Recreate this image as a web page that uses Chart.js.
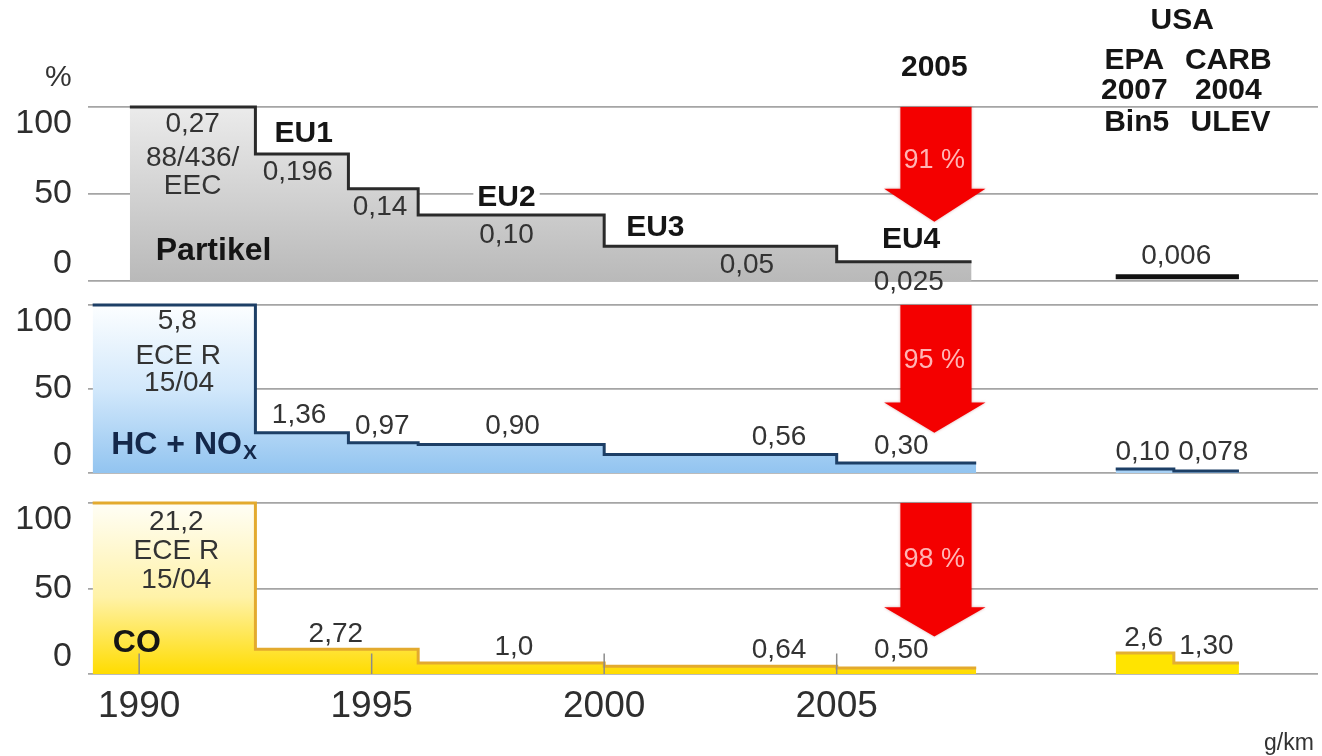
<!DOCTYPE html>
<html><head><meta charset="utf-8">
<script src="https://cdn.jsdelivr.net/npm/chart.js@4.4.1/dist/chart.umd.min.js"></script>
<style>html,body{margin:0;padding:0;background:#fff;overflow:hidden}canvas{display:block}</style>
</head><body>
<canvas id="c" width="1322" height="756"></canvas>
<script>
// ================= DATA =================
const tickYears = [1990, 1995, 2000, 2005];
const panelTicks = [0, 50, 100];

// EU limits in % of the first limit (step starts; last entry = end of the series)
const partikelYears = [1989.8, 1992.5, 1994.5, 1996.0, 2000.0, 2005.0, 2007.9];
const partikelPct   = [100, 73, 53, 38, 20, 11, 11];
const partikelLabels = ['0,27', '0,196', '0,14', '0,10', '0,05', '0,025'];

const hcYears = [1989.0, 1992.5, 1994.5, 1996.0, 2000.0, 2005.0, 2008.0];
const hcPct   = [100, 24, 18, 17, 11, 6, 6];
const hcLabels = ['5,8', '1,36', '0,97', '0,90', '0,56', '0,30'];

const coYears = [1989.0, 1992.5, 1996.0, 2000.0, 2005.0, 2008.0];
const coPct   = [100, 14.5, 6.5, 4.5, 3.5, 3.5];
const coLabels = ['21,2', '2,72', '1,0', '0,64', '0,50'];

// USA: EPA 2007 Bin5 | CARB 2004 ULEV
const usaYears = [2011.0, 2012.25, 2013.65];
const usaPartikelPct = [2.5, 2.5, 2.5];
const usaHcPct = [2.4, 1.2, 1.2];
const usaCoPct = [12.3, 6.4, 6.4];
const usaPartikelLabels = ['0,006'];
const usaHcLabels = ['0,10', '0,078'];
const usaCoLabels = ['2,6', '1,30'];

const reductionLabels = ['91 %', '95 %', '98 %'];
const euLabels = ['EU1', 'EU2', 'EU3', 'EU4'];

// ================= STYLE / LAYOUT =================
const FONT = '"Liberation Sans", Arial, Helvetica, sans-serif';
Chart.defaults.font.family = FONT;

const pts = (xs, ys) => xs.map((x, i) => ({x: x, y: ys[i]}));

function vGrad(ctx, sid, stops) {
  const chart = ctx.chart;
  const ys = chart.scales[sid];
  if (!chart.chartArea || !ys) return stops[stops.length - 1][1];
  const g = chart.ctx.createLinearGradient(0, ys.getPixelForValue(100), 0, ys.getPixelForValue(0));
  stops.forEach(s => g.addColorStop(s[0], s[1]));
  return g;
}
const grayStops = [[0, '#ebebeb'], [1, '#b9b9b9']];
const blueStops = [[0, '#fcfeff'], [0.5, '#d2e8fb'], [1, '#92c4f0']];
const yellowStops = [[0, '#fffef6'], [0.55, '#fff2a8'], [1, '#ffdc00']];

function yAxis(min, max, weight, stackWeight) {
  return {
    type: 'linear', position: 'left', stack: 'panels', stackWeight: stackWeight, weight: weight,
    min: min, max: max,
    afterBuildTicks: s => { s.ticks = panelTicks.map(v => ({value: v})); },
    afterFit: s => { s.width = 88; s.paddingTop = 0; s.paddingBottom = 0; },
    grid: {color: '#a5a5a5', lineWidth: 1.8, drawTicks: false},
    border: {display: false},
    ticks: {
      padding: 16, color: '#2e2e2e', autoSkip: false,
      font: {size: 34, lineHeight: 1.0},
      callback: v => v === 100 ? ['', '100'] : (v === 0 ? ['0', ''] : String(v))
    }
  };
}

// label positions (year, percent) per panel
const partikelLabelPos = [[1991.15, 90], [1993.41, 62.6], [1995.18, 42.2], [1997.9, 26.4], [2003.07, 9], [2006.55, -0.5]];
const hcLabelPos = [[1990.82, 90.5], [1993.44, 34.5], [1995.23, 28], [1998.03, 28], [2003.76, 21.4], [2006.39, 16]];
const coLabelPos = [[1990.8, 89], [1994.23, 23.4], [1998.06, 15.8], [2003.76, 14], [2006.39, 14]];
const euLabelPos = [[1993.54, 84.5], [1997.9, 48], [2001.1, 30.5], [2006.6, 23.6]];

const annot = {
  id: 'annot',
  afterDatasetsDraw(chart) {
    const ctx = chart.ctx, xs = chart.scales.x;
    const yC = chart.scales.yC;
    ctx.save();
    ctx.strokeStyle = '#8c8c8c'; ctx.lineWidth = 1.5;
    tickYears.forEach(t => {
      const x = xs.getPixelForValue(t);
      ctx.beginPath(); ctx.moveTo(x, yC.getPixelForValue(0)); ctx.lineTo(x, yC.getPixelForValue(12)); ctx.stroke();
    });
    ctx.restore();
    const arrows = [['yP', 100, 53, 34], ['yH', 100, 42, 24], ['yC', 100, 39, 22]];
    arrows.forEach(a => {
      const ys = chart.scales[a[0]];
      const xL = xs.getPixelForValue(2006.37), xR = xs.getPixelForValue(2007.9);
      const hL = xs.getPixelForValue(2006.02), hR = xs.getPixelForValue(2008.2);
      const xm = xs.getPixelForValue(2007.1);
      const yT = ys.getPixelForValue(a[1]), yB = ys.getPixelForValue(a[2]), yTip = ys.getPixelForValue(a[3]);
      ctx.save();
      ctx.beginPath();
      ctx.moveTo(xL, yT); ctx.lineTo(xR, yT); ctx.lineTo(xR, yB); ctx.lineTo(hR, yB);
      ctx.lineTo(xm, yTip); ctx.lineTo(hL, yB); ctx.lineTo(xL, yB); ctx.closePath();
      ctx.fillStyle = '#f40000';
      ctx.shadowColor = 'rgba(150,0,0,0.35)'; ctx.shadowBlur = 3;
      ctx.fill();
      ctx.restore();
    });
  },
  afterDraw(chart) {
    const ctx = chart.ctx, xs = chart.scales.x;
    const S = {
      v: ['28px ' + FONT, '#333333'],
      b: ['bold 30px ' + FONT, '#151515'],
      B: ['bold 32px ' + FONT, '#151515'],
      h: ['bold 30px ' + FONT, '#151515'],
      pc: ['30px ' + FONT, '#333333'],
      p: ['27px ' + FONT, '#ffb4b4']
    };
    function T(s, sid, xv, yv, kind, align, bg) {
      const ys = chart.scales[sid];
      const x = xs.getPixelForValue(xv), y = ys.getPixelForValue(yv);
      ctx.save();
      ctx.font = S[kind][0]; ctx.textAlign = align || 'center'; ctx.textBaseline = 'middle';
      if (bg) {
        const w = ctx.measureText(s).width;
        ctx.fillStyle = '#ffffff';
        ctx.fillRect(x - w / 2 - 4, y - 13, w + 8, 26);
      }
      ctx.fillStyle = S[kind][1];
      ctx.fillText(s, x, y);
      ctx.restore();
    }
    partikelLabels.forEach((s, i) => T(s, 'yP', partikelLabelPos[i][0], partikelLabelPos[i][1], 'v'));
    T('88/436/', 'yP', 1991.15, 70.7, 'v');
    T('EEC', 'yP', 1991.15, 54.6, 'v');
    euLabels.forEach((s, i) => T(s, 'yP', euLabelPos[i][0], euLabelPos[i][1], 'b', 'center', i === 1));
    T('Partikel', 'yP', 1991.6, 17, 'B');
    T(usaPartikelLabels[0], 'yP', 2012.3, 14.4, 'v');
    T('%', 'yP', 1988.26, 117, 'pc');
    T('2005', 'yP', 2007.1, 122.4, 'h');
    T('USA', 'yP', 2012.43, 149.4, 'h');
    T('EPA', 'yP', 2011.4, 126.4, 'h'); T('CARB', 'yP', 2013.42, 126.4, 'h');
    T('2007', 'yP', 2011.4, 109.2, 'h'); T('2004', 'yP', 2013.42, 109.2, 'h');
    T('Bin5', 'yP', 2011.45, 90.8, 'h'); T('ULEV', 'yP', 2013.47, 90.8, 'h');
    hcLabels.forEach((s, i) => T(s, 'yH', hcLabelPos[i][0], hcLabelPos[i][1], 'v'));
    T('ECE R', 'yH', 1990.84, 69.6, 'v');
    T('15/04', 'yH', 1990.86, 53.6, 'v');
    T(usaHcLabels[0], 'yH', 2011.58, 12.5, 'v');
    T(usaHcLabels[1], 'yH', 2013.1, 12.5, 'v');
    {
      const ys = chart.scales.yH;
      const x = xs.getPixelForValue(1989.4), y = ys.getPixelForValue(16.7);
      ctx.save();
      ctx.font = 'bold 32px ' + FONT; ctx.textAlign = 'left'; ctx.textBaseline = 'middle';
      ctx.fillStyle = '#14284a';
      ctx.fillText('HC + NO', x, y);
      const w = ctx.measureText('HC + NO').width;
      ctx.font = 'bold 21px ' + FONT;
      ctx.fillText('X', x + w + 1, y + 8);
      ctx.restore();
    }
    coLabels.forEach((s, i) => T(s, 'yC', coLabelPos[i][0], coLabelPos[i][1], 'v'));
    T('ECE R', 'yC', 1990.8, 72, 'v');
    T('15/04', 'yC', 1990.8, 55, 'v');
    T('CO', 'yC', 1989.95, 18, 'B');
    T(usaCoLabels[0], 'yC', 2011.6, 21, 'v');
    T(usaCoLabels[1], 'yC', 2012.95, 16.4, 'v');
    T(reductionLabels[0], 'yP', 2007.1, 69, 'p');
    T(reductionLabels[1], 'yH', 2007.1, 67, 'p');
    T(reductionLabels[2], 'yC', 2007.1, 67, 'p');
    ctx.save();
    ctx.font = '23px ' + FONT; ctx.fillStyle = '#333'; ctx.textAlign = 'center'; ctx.textBaseline = 'middle';
    ctx.fillText('g/km', chart.width - 33, chart.height - 12);
    ctx.restore();
  }
};

new Chart(document.getElementById('c'), {
  type: 'line',
  data: {
    datasets: [
      {data: pts(partikelYears, partikelPct), yAxisID: 'yP', stepped: true, borderColor: '#2a2a2a', borderWidth: 3,
       fill: 'origin', backgroundColor: c => vGrad(c, 'yP', grayStops)},
      {data: pts(usaYears, usaPartikelPct), yAxisID: 'yP', stepped: true, borderColor: '#111111', borderWidth: 5, fill: false},
      {data: pts(hcYears, hcPct), yAxisID: 'yH', stepped: true, borderColor: '#1d3f66', borderWidth: 3,
       fill: 'origin', backgroundColor: c => vGrad(c, 'yH', blueStops)},
      {data: pts(usaYears, usaHcPct), yAxisID: 'yH', stepped: true, borderColor: '#1d3f66', borderWidth: 3,
       fill: 'origin', backgroundColor: '#a8d1f4'},
      {data: pts(coYears, coPct), yAxisID: 'yC', stepped: true, borderColor: '#e3aa2e', borderWidth: 3,
       fill: 'origin', backgroundColor: c => vGrad(c, 'yC', yellowStops)},
      {data: pts(usaYears, usaCoPct), yAxisID: 'yC', stepped: true, borderColor: '#e2b032', borderWidth: 3,
       fill: 'origin', backgroundColor: '#ffe400'}
    ]
  },
  options: {
    responsive: false, animation: false,
    layout: {padding: {top: 8, right: 4, left: 0, bottom: 0}},
    elements: {point: {radius: 0}, line: {tension: 0, borderCapStyle: 'butt', borderJoinStyle: 'miter'}},
    plugins: {legend: {display: false}, tooltip: {enabled: false}},
    scales: {
      x: {
        type: 'linear', min: 1988.9, max: 2015.35,
        afterBuildTicks: s => { s.ticks = tickYears.map(v => ({value: v})); },
        afterFit: s => { s.height = 82; s.paddingLeft = 0; s.paddingRight = 0; },
        grid: {display: false, drawTicks: false}, border: {display: false},
        ticks: {padding: 11, color: '#2e2e2e', font: {size: 37}, autoSkip: false, maxRotation: 0, callback: v => String(v)}
      },
      yP: yAxis(-6.9, 156.9, 3, 285),
      yH: yAxis(-9.5, 107.1, 2, 196),
      yC: yAxis(0, 108.2, 1, 185)
    }
  },
  plugins: [annot]
});
</script>
</body></html>
